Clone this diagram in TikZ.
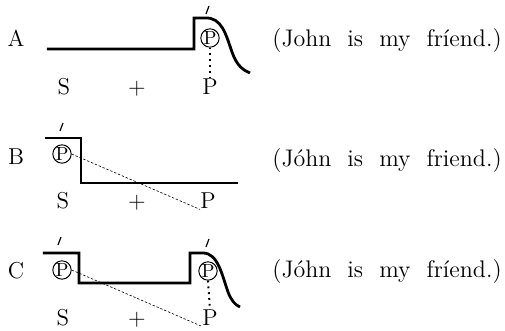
\documentclass[tikz,border=0pt]{standalone}
\usepackage{fontspec}
\usetikzlibrary{positioning, calc}

\newcommand{\sentfont}{\fontsize{12}{14}\selectfont\spaceskip=8pt\relax}

\begin{document}
\begin{tikzpicture}[
    x=0.5pt, y=-0.5pt,
    txt/.style={font=\fontsize{11.5}{13}\selectfont, inner sep=0pt, anchor=base},
    sent/.style={txt, anchor=base west, font=\sentfont},
    circp/.style={circle, draw, line width=0.5pt, minimum size=8pt, inner sep=0pt, font=\fontsize{9.5}{10}\selectfont},
    contour/.style={line width=1.4pt, line join=miter},
    stress/.style={line width=0.6pt},
    dashline/.style={line width=0.3pt, dash pattern=on 1.2pt off 0.9pt},
    dotline/.style={line width=1pt, dash pattern=on 0.9pt off 2pt}
]
\useasboundingbox (0,0) rectangle (505,331);

% Row A
\node[txt] (labA) at (16,47) {A};
\draw[contour] (47,49) -- (194,49) -- (194,18) -- (205,18)
    .. controls (222,17) and (226,35) .. (232,52)
    .. controls (237,66) and (243,70) .. (250,73);
\draw[stress] (206,14) -- (209,6);
\node[circp] (pA) at (210,38) {P};
\node[txt] (SA) at (64,95) {S};
\node[txt] (plusA) at (137,95) {+};
\node[txt] (PA) at (210,95) {P};
\draw[dotline] (pA.south) -- (PA.north);
\node[sent] (sentA) at (272,47) {(John is my fríend.)};

% Row B
\node[txt] (labB) at (16,165) {B};
\draw[contour] (45,138) -- (81,138) -- (81,183) -- (238,183);
\draw[stress] (60,131) -- (63,123);
\node[circp] (pB) at (62,154) {P};
\node[txt] (SB) at (63,209) {S};
\node[txt] (plusB) at (137,209) {+};
\node[txt] (PB) at (208,209) {P};
\draw[dashline] (pB.east) -- (PB.south west);
\node[sent] (sentB) at (272,167) {(Jóhn is my friend.)};

% Row C
\node[txt] (labC) at (16,279) {C};
\draw[contour] (43,253) -- (79,253) -- (79,283) -- (190,283) -- (190,253) -- (203,253)
    .. controls (218,253) and (222,275) .. (228,292)
    .. controls (231,300) and (235,305) .. (240,307);
\draw[stress] (58,245) -- (61,237);
\draw[stress] (206,247) -- (209,239);
\node[circp] (pC1) at (62,270) {P};
\node[circp] (pC2) at (208,271) {P};
\node[txt] (SC) at (63,326) {S};
\node[txt] (plusC) at (137,326) {+};
\node[txt] (PC) at (210,326) {P};
\draw[dashline] (pC1.east) -- (PC.south west);
\draw[dotline] (pC2.south) -- (PC.north);
\node[sent] (sentC) at (272,278) {(Jóhn is my fríend.)};

\end{tikzpicture}
\end{document}
